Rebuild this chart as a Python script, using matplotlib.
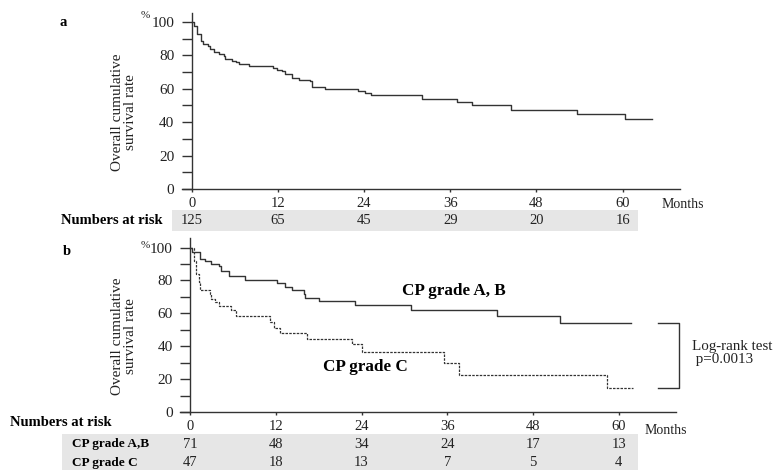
import matplotlib
matplotlib.use("Agg")
import matplotlib.pyplot as plt
import matplotlib.transforms as mtransforms
from matplotlib.patches import Rectangle

plt.rcParams['font.family'] = ['Liberation Serif', 'DejaVu Serif']

# panel a: all patients (Kaplan-Meier steps)
months_all = [0, 0.3, 0.8, 1.25, 1.5, 2.2, 2.6, 3.1, 3.8, 4.5, 4.7, 5.65, 6.1, 6.6,
              8.0, 11.3, 11.9, 12.6, 13.05, 13.9, 14.9, 16.5, 16.8, 18.6, 23.2, 24.1,
              24.9, 32.0, 37.0, 39.0, 44.5, 53.6, 60.4, 64.1]
surv_all = [100, 97.6, 93, 88.7, 86.7, 85.7, 83.7, 81.7, 80.7, 79.8, 77.8, 76.8, 75.8,
            74.8, 73.6, 72.4, 71.2, 70.4, 68.5, 66.3, 65.3, 64.5, 61.3, 59.9, 58.5,
            57.3, 56.2, 54.0, 52.0, 50.4, 47.4, 44.6, 41.7, 41.7]

# panel b: by Child-Pugh grade
months_ab = [0, 0.24, 1.4, 2.1, 3.0, 4.0, 4.4, 5.4, 7.7, 12.2, 13.3, 14.3, 15.9, 16.1,
             18.0, 23.1, 30.9, 43.0, 51.7, 61.7]
surv_ab = [100, 97, 93.1, 91.7, 90.1, 88.5, 86, 83, 80.4, 78.4, 75.9, 73.9, 71.9, 69.5,
           67.5, 65.3, 62.2, 58.4, 54.1, 54.1]
months_c = [0, 0.5, 0.9, 1.2, 1.4, 2.8, 3.0, 3.5, 4.0, 5.8, 6.5, 11.2, 11.7, 12.6, 16.4,
            22.7, 24.1, 35.6, 37.6, 58.3, 62.0]
surv_c = [100, 92, 84, 79, 73.9, 71.9, 68.9, 66.9, 64.2, 61.8, 58.2, 54.7, 51.3, 48.1,
          44.6, 41.2, 36.6, 29.9, 22.8, 14.3, 14.3]

risk_months = [0, 12, 24, 36, 48, 60]
risk_all = [125, 65, 45, 29, 20, 16]
risk_ab = [71, 48, 34, 24, 17, 13]
risk_c = [47, 18, 13, 7, 5, 4]

W, H = 773, 470
fig = plt.figure(figsize=(W / 100, H / 100), dpi=100)
line_col = '#333333'
txt_col = '#222222'


def fx(px):
    return px / W


def fy(py):
    return 1 - py / H


def setup(ax):
    ax.set_xlim(-1.4, 68)
    ax.set_ylim(0, 105.5)
    ax.spines['top'].set_visible(False)
    ax.spines['right'].set_visible(False)
    ax.spines['left'].set_position(('data', 0))
    ax.spines['left'].set_bounds(0, 105.5)
    for s in ('left', 'bottom'):
        ax.spines[s].set_color(line_col)
        ax.spines[s].set_linewidth(1.0)
    ax.set_yticks([0, 20, 40, 60, 80, 100])
    ax.set_yticks([10, 30, 50, 70, 90], minor=True)
    ax.set_xticks(risk_months)
    ax.tick_params(axis='y', which='both', length=7, width=1.0, color=line_col,
                   labelsize=11, pad=5.5, labelcolor=txt_col)
    ax.tick_params(axis='x', length=2.5, width=1.0, color=line_col,
                   labelsize=10.5, pad=3, labelcolor=txt_col)
    ax.patch.set_alpha(0)


def grey_box(x0, y0, x1, y1):
    fig.patches.append(Rectangle((fx(x0), fy(y1)), fx(x1) - fx(x0), fy(y0) - fy(y1),
                                 transform=fig.transFigure, facecolor='#e6e6e6',
                                 edgecolor='none', zorder=-5))


# ---- panel a ----
ax_a = fig.add_axes([fx(181.7), fy(189), fx(680) - fx(181.7), fy(12.6) - fy(189)])
setup(ax_a)
ax_a.step(months_all, surv_all, where='post', color=line_col, lw=1.0)

fig.text(fx(60), fy(22), 'a', fontsize=10.5, fontweight='bold', va='center')
fig.text(fx(145), fy(16), '%', fontsize=8, ha='center', va='center', color=txt_col)
fig.text(fx(124), fy(112), 'Overall cumulative\nsurvival rate', rotation=90,
         ha='center', va='center', fontsize=11, linespacing=0.95, color=txt_col)
fig.text(fx(683), fy(204), 'Months', fontsize=10, ha='center', va='center', color=txt_col)

grey_box(172, 210, 638, 231)
fig.text(fx(163), fy(220), 'Numbers at risk', fontsize=10.5, fontweight='bold',
         ha='right', va='center')
tr_a = mtransforms.blended_transform_factory(ax_a.transData, fig.transFigure)
for m, n in zip(risk_months, risk_all):
    ax_a.text(m, fy(220), str(n), transform=tr_a, ha='center', va='center',
              fontsize=10.5, color=txt_col, clip_on=False)

# ---- panel b ----
ax_b = fig.add_axes([fx(180), fy(412), fx(676) - fx(180), fy(238.5) - fy(412)])
setup(ax_b)
ax_b.step(months_ab, surv_ab, where='post', color=line_col, lw=1.0)
ax_b.step(months_c, surv_c, where='post', color=line_col, lw=0.9,
          linestyle=(0, (2, 1)))

ax_b.text(36.9, 73.3, 'CP grade A, B', fontsize=12.3, fontweight='bold',
          ha='center', va='center')
ax_b.text(24.6, 27.5, 'CP grade C', fontsize=12.3, fontweight='bold',
          ha='center', va='center')

# log-rank bracket joining the two curve ends
y_top, y_bot = surv_ab[-1], surv_c[-1]
ax_b.plot([65.5, 68.4, 68.4, 65.5], [y_top, y_top, y_bot, y_bot],
          color=line_col, lw=1.0, clip_on=False)
ax_b.text(70.2, 36.0, 'Log-rank test\n p=0.0013', fontsize=10.8, ha='left',
          va='center', linespacing=0.95, color=txt_col, clip_on=False)

fig.text(fx(63), fy(251), 'b', fontsize=10.5, fontweight='bold', va='center')
fig.text(fx(145), fy(245), '%', fontsize=8, ha='center', va='center', color=txt_col)
fig.text(fx(124), fy(336), 'Overall cumulative\nsurvival rate', rotation=90,
         ha='center', va='center', fontsize=11, linespacing=0.95, color=txt_col)
fig.text(fx(666), fy(431), 'Months', fontsize=10, ha='center', va='center', color=txt_col)

grey_box(62, 434, 638, 470)
fig.text(fx(10), fy(423), 'Numbers at risk', fontsize=10.5, fontweight='bold',
         ha='left', va='center')
fig.text(fx(72), fy(444), 'CP grade A,B', fontsize=9.5, fontweight='bold',
         ha='left', va='center')
fig.text(fx(72), fy(463), 'CP grade C', fontsize=9.5, fontweight='bold',
         ha='left', va='center')
tr_b = mtransforms.blended_transform_factory(ax_b.transData, fig.transFigure)
for m, n1, n2 in zip(risk_months, risk_ab, risk_c):
    ax_b.text(m, fy(444), str(n1), transform=tr_b, ha='center', va='center',
              fontsize=10.5, color=txt_col, clip_on=False)
    ax_b.text(m, fy(463), str(n2), transform=tr_b, ha='center', va='center',
              fontsize=10.5, color=txt_col, clip_on=False)

fig.savefig('out.png', dpi=100)
